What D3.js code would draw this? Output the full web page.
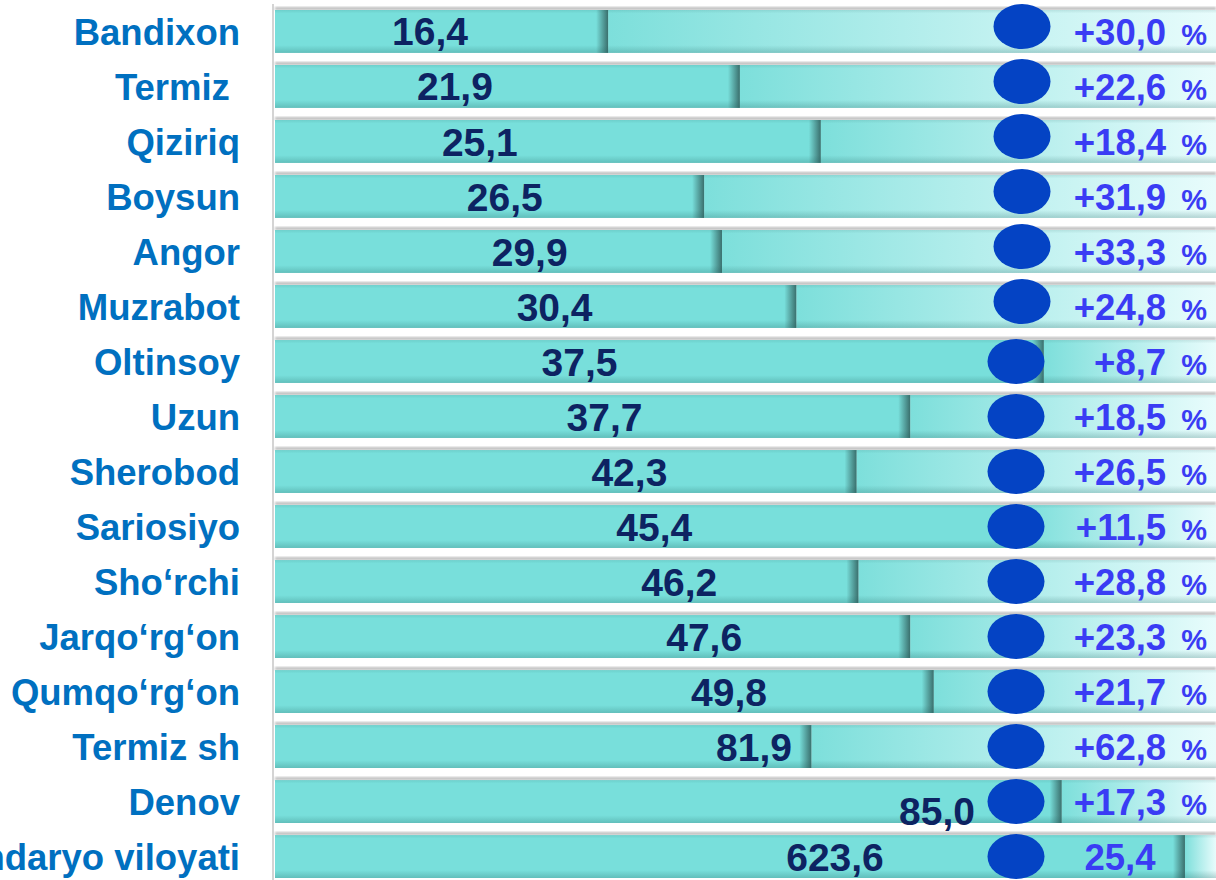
<!DOCTYPE html>
<html>
<head>
<meta charset="utf-8">
<script src="https://cdn.jsdelivr.net/npm/d3@7"></script>
<style>
  html, body { margin: 0; padding: 0; background: #fff; }
  svg { display: block; font-family: "Liberation Sans", Arial, sans-serif; font-weight: bold; }
</style>
</head>
<body>
<svg id="chart" width="1216" height="880"></svg>
<script>
// districts, top to bottom
var categories = ["Bandixon", "Termiz ", "Qiziriq", "Boysun", "Angor", "Muzrabot", "Oltinsoy", "Uzun",
  "Sherobod", "Sariosiyo", "Sho‘rchi", "Jarqo‘rg‘on", "Qumqo‘rg‘on", "Termiz sh", "Denov", "Surxondaryo viloyati"];
// value printed inside each bar
var values = [16.4, 21.9, 25.1, 26.5, 29.9, 30.4, 37.5, 37.7, 42.3, 45.4, 46.2, 47.6, 49.8, 81.9, 85.0, 623.6];
// growth, percent
var growth = [30.0, 22.6, 18.4, 31.9, 33.3, 24.8, 8.7, 18.5, 26.5, 11.5, 28.8, 23.3, 21.7, 62.8, 17.3, 25.4];
// filled share of each bar track, percent
var barLevel = [35.4, 49.4, 58.0, 45.6, 47.5, 55.4, 81.7, 67.5, 61.8, 79.7, 62.0, 67.5, 70.0, 57.0, 83.6, 96.7];

var rows = categories.map(function(c, i) {
  return {name: c, i: i, value: values[i], growth: growth[i], level: barLevel[i], total: i === categories.length - 1};
});

var svg = d3.select('#chart');
var width = 1216, height = 880;

var x = d3.scaleLinear().domain([0, 100]).range([275, 1216]);
var y = d3.scaleBand().domain(categories).range([10, 878]).paddingInner(0.22);
// the printed values drift right row by row
var labelX = d3.scaleLinear().domain([0, 13]).range([430, 754]);

var comma = function(v) { return d3.format('.1f')(v).replace('.', ','); };

var defs = svg.append('defs');

var g1 = defs.append('linearGradient').attr('id', 'track');
g1.append('stop').attr('offset', '0%').attr('stop-color', '#7ddfdb');
g1.append('stop').attr('offset', '100%').attr('stop-color', '#e8fcfc');

var g2 = defs.append('linearGradient').attr('id', 'edge');
g2.append('stop').attr('offset', '0%').attr('stop-color', '#2f5c5a').attr('stop-opacity', 0);
g2.append('stop').attr('offset', '100%').attr('stop-color', '#2f5c5a').attr('stop-opacity', 0.85);

var g3 = defs.append('linearGradient').attr('id', 'shade').attr('x1', 0).attr('x2', 0).attr('y1', 0).attr('y2', 1);
g3.append('stop').attr('offset', '0%').attr('stop-color', '#1c5e5b').attr('stop-opacity', 0.12);
g3.append('stop').attr('offset', '8%').attr('stop-color', '#1c5e5b').attr('stop-opacity', 0);
g3.append('stop').attr('offset', '82%').attr('stop-color', '#1c5e5b').attr('stop-opacity', 0);
g3.append('stop').attr('offset', '100%').attr('stop-color', '#1c5e5b').attr('stop-opacity', 0.25);

defs.append('filter').attr('id', 'blur').append('feGaussianBlur').attr('stdDeviation', 1.2);

// axis line
svg.append('line')
  .attr('x1', 273).attr('x2', 273).attr('y1', 4).attr('y2', height)
  .attr('stroke', '#d4d4d4').attr('stroke-width', 2);

var row = svg.selectAll('g.row')
    .data(rows)
  .enter().append('g')
    .attr('class', 'row');

// soft grey line above each bar
row.append('rect')
  .attr('x', x(0)).attr('y', function(d) { return y(d.name) - 3; })
  .attr('width', x(100) - x(0)).attr('height', 3)
  .attr('fill', '#bdbdbd').attr('filter', 'url(#blur)');

row.append('rect')
  .attr('x', function(d) { return x(d.level); })
  .attr('y', function(d) { return y(d.name); })
  .attr('width', function(d) { return x(100) - x(d.level); })
  .attr('height', y.bandwidth())
  .attr('fill', 'url(#track)');

row.append('rect')
  .attr('x', x(0))
  .attr('y', function(d) { return y(d.name); })
  .attr('width', function(d) { return x(d.level) - x(0); })
  .attr('height', y.bandwidth())
  .attr('fill', '#78dfdb');

row.append('rect')
  .attr('x', function(d) { return x(d.level) - 12; })
  .attr('y', function(d) { return y(d.name); })
  .attr('width', 12)
  .attr('height', y.bandwidth())
  .attr('fill', 'url(#edge)');

row.append('rect')
  .attr('x', x(0))
  .attr('y', function(d) { return y(d.name); })
  .attr('width', x(100) - x(0))
  .attr('height', y.bandwidth())
  .attr('fill', 'url(#shade)');

// category labels
row.append('text')
  .attr('x', 240)
  .attr('y', function(d) { return y(d.name) + y.bandwidth() / 2; })
  .attr('dy', '0.36em')
  .attr('text-anchor', 'end')
  .attr('font-size', 36.5)
  .attr('fill', '#0070c0')
  .attr('xml:space', 'preserve')
  .text(function(d) { return d.name; });

// values in bars
row.append('text')
  .attr('x', function(d) {
    if (d.name === 'Denov') return 937;
    return d.total ? 835 : labelX(d.i);
  })
  .attr('y', function(d) { return y(d.name) + y.bandwidth() / 2 + (d.name === 'Denov' ? 9 : 0); })
  .attr('dy', '0.36em')
  .attr('text-anchor', 'middle')
  .attr('font-size', 39)
  .attr('fill', '#0d2362')
  .text(function(d) { return comma(d.value); });

// markers
row.append('ellipse')
  .attr('cx', function(d) { return d.i < 6 ? 1022 : 1016; })
  .attr('cy', function(d) { return y(d.name) + y.bandwidth() / 2 - (d.i < 6 ? 5 : 0); })
  .attr('rx', 28.5).attr('ry', 22.5)
  .attr('fill', '#0443c4');

// growth labels
var gt = row.append('text')
  .attr('x', function(d) { return d.total ? 1120 : 1207; })
  .attr('y', function(d) { return y(d.name) + y.bandwidth() / 2 + 8; })
  .attr('dy', '0.36em')
  .attr('text-anchor', function(d) { return d.total ? 'middle' : 'end'; })
  .attr('fill', '#3a3cf4');

gt.append('tspan')
  .attr('font-size', 36.5)
  .text(function(d) { return d.total ? comma(d.growth) : '+' + comma(d.growth); });

gt.filter(function(d) { return !d.total; })
  .append('tspan')
  .attr('font-size', 29)
  .attr('dx', 7)
  .text(' %');
</script>
</body>
</html>
